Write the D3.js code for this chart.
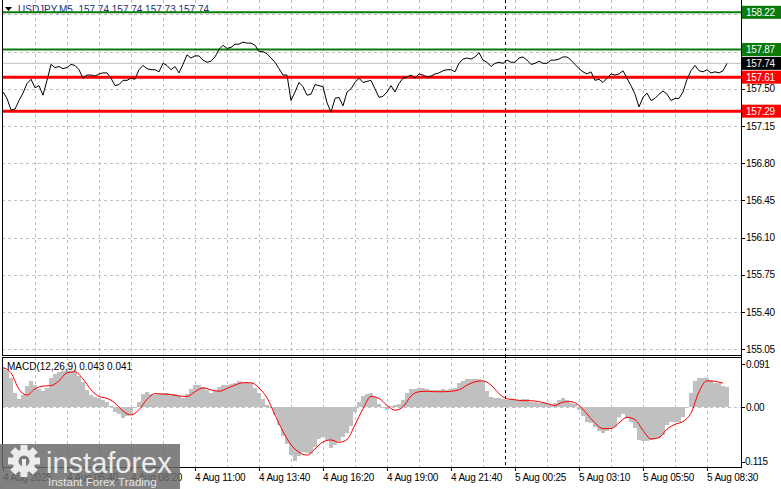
<!DOCTYPE html>
<html>
<head>
<meta charset="utf-8">
<script src="https://cdn.jsdelivr.net/npm/d3@7"></script>
<style>
	body { margin: 0; background: #fff; }
	svg { display: block; font-family: "Liberation Sans", Arial, sans-serif; }
</style>
</head>
<body>
<div id="chart"></div>
<script>
// close price, one point every 2 bars (M5)
var price = [
	157.47, 157.41, 157.30, 157.31, 157.39, 157.46, 157.55, 157.59, 157.51, 157.53,
	157.44, 157.58, 157.73, 157.70, 157.71, 157.69, 157.70, 157.73, 157.72, 157.68,
	157.60, 157.63, 157.63, 157.62, 157.64, 157.65, 157.65, 157.60, 157.53, 157.54,
	157.58, 157.58, 157.60, 157.59, 157.68, 157.72, 157.69, 157.68, 157.68, 157.66,
	157.74, 157.72, 157.68, 157.71, 157.65, 157.73, 157.82, 157.79, 157.81, 157.81,
	157.77, 157.75, 157.76, 157.80, 157.87, 157.91, 157.88, 157.89, 157.92, 157.92,
	157.94, 157.93, 157.93, 157.91, 157.85, 157.85, 157.83, 157.79, 157.75, 157.69,
	157.63, 157.63, 157.39, 157.47, 157.56, 157.52, 157.44, 157.45, 157.54, 157.53,
	157.52, 157.37, 157.28, 157.41, 157.42, 157.34, 157.47, 157.50, 157.56, 157.60,
	157.56, 157.57, 157.58, 157.50, 157.42, 157.43, 157.47, 157.53, 157.47, 157.55,
	157.60, 157.61, 157.63, 157.60, 157.64, 157.63, 157.61, 157.62, 157.64, 157.65,
	157.67, 157.68, 157.68, 157.66, 157.74, 157.78, 157.79, 157.78, 157.80, 157.84,
	157.77, 157.75, 157.71, 157.74, 157.75, 157.74, 157.77, 157.75, 157.75, 157.79,
	157.80, 157.77, 157.73, 157.74, 157.76, 157.74, 157.74, 157.77, 157.77, 157.78,
	157.80, 157.80, 157.77, 157.73, 157.69, 157.66, 157.64, 157.66, 157.58, 157.59,
	157.56, 157.60, 157.64, 157.63, 157.64, 157.67, 157.60, 157.53, 157.45, 157.33,
	157.42, 157.46, 157.39, 157.41, 157.45, 157.48, 157.45, 157.39, 157.41, 157.41,
	157.47, 157.59, 157.67, 157.72, 157.67, 157.66, 157.68, 157.65, 157.66, 157.65,
	157.67, 157.74
];

// MACD main (histogram), same points as price
var macdHist = [
	0.084, 0.080, 0.063, 0.031, 0.018, 0.027, 0.045, 0.055, 0.048, 0.039,
	0.034, 0.041, 0.063, 0.070, 0.074, 0.077, 0.077, 0.076, 0.073, 0.066,
	0.053, 0.036, 0.026, 0.022, 0.019, 0.016, 0.012, 0.002, -0.009, -0.014,
	-0.022, -0.019, -0.014, -0.001, 0.011, 0.029, 0.032, 0.029, 0.027, 0.029,
	0.031, 0.031, 0.029, 0.029, 0.023, 0.020, 0.028, 0.039, 0.047, 0.047,
	0.042, 0.037, 0.031, 0.034, 0.043, 0.048, 0.048, 0.049, 0.052, 0.055,
	0.053, 0.053, 0.051, 0.041, 0.031, 0.018, 0.005, -0.002, -0.016, -0.037,
	-0.060, -0.077, -0.101, -0.113, -0.104, -0.094, -0.097, -0.099, -0.083, -0.067,
	-0.062, -0.070, -0.087, -0.079, -0.071, -0.062, -0.054, -0.039, -0.009, 0.012,
	0.023, 0.029, 0.031, 0.022, 0.008, -0.001, -0.005, 0.002, 0.004, 0.008,
	0.016, 0.031, 0.038, 0.038, 0.040, 0.041, 0.038, 0.036, 0.036, 0.036,
	0.038, 0.036, 0.038, 0.041, 0.051, 0.055, 0.059, 0.059, 0.059, 0.059,
	0.055, 0.034, 0.022, 0.020, 0.019, 0.018, 0.016, 0.016, 0.016, 0.016,
	0.018, 0.018, 0.011, 0.011, 0.009, 0.009, 0.006, 0.005, 0.009, 0.016,
	0.019, 0.016, 0.009, 0.008, -0.005, -0.019, -0.032, -0.033, -0.042, -0.051,
	-0.055, -0.051, -0.044, -0.042, -0.020, -0.015, -0.023, -0.030, -0.044, -0.070,
	-0.072, -0.072, -0.070, -0.067, -0.065, -0.058, -0.037, -0.032, -0.030, -0.030,
	-0.020, -0.001, 0.031, 0.055, 0.063, 0.063, 0.063, 0.058, 0.052, 0.051,
	0.046, 0.043
];

// MACD signal, one value every 2nd price point
var macdSignal = [
	0.084, 0.073, 0.038, 0.026, 0.039, 0.045, 0.046, 0.056, 0.073, 0.075,
	0.060, 0.037, 0.023, 0.019, 0.009, -0.008, -0.016, -0.005, 0.017, 0.029,
	0.028, 0.027, 0.024, 0.023, 0.033, 0.041, 0.037, 0.034, 0.040, 0.047,
	0.052, 0.052, 0.041, 0.020, -0.016, -0.051, -0.079, -0.095, -0.101, -0.088,
	-0.073, -0.069, -0.074, -0.068, -0.037, -0.003, 0.023, 0.019, 0.004, -0.006,
	0.001, 0.024, 0.033, 0.034, 0.033, 0.033, 0.034, 0.037, 0.047, 0.054,
	0.056, 0.047, 0.029, 0.018, 0.016, 0.014, 0.014, 0.012, 0.008, 0.004,
	0.011, 0.012, 0.004, -0.014, -0.033, -0.045, -0.045, -0.033, -0.021, -0.026,
	-0.049, -0.067, -0.064, -0.046, -0.036, -0.030, -0.012, 0.033, 0.056, 0.055,
	0.051
];

var timeLabels = ['4 Aug 2025', '4 Aug 05:40', '4 Aug 08:20', '4 Aug 11:00', '4 Aug 13:40', '4 Aug 16:20',
	'4 Aug 19:00', '4 Aug 21:40', '5 Aug 00:25', '5 Aug 03:10', '5 Aug 05:50', '5 Aug 08:30'];
var priceTicks = [155.05, 155.40, 155.75, 156.10, 156.45, 156.80, 157.15, 157.50, 157.85, 158.20];
var macdTicks = [0.091, 0.00, -0.115];
var greenLevels = [158.22, 157.87];
var redLevels = [157.61, 157.29];
var lastPrice = 157.74;
var dayBreak = 125.5;
var headerText = 'USDJPY,M5  157.74 157.74 157.73 157.74';
var macdText = 'MACD(12,26,9) 0.043 0.041';

var svgWidth = 781,
	svgHeight = 489,
	left = 2,
	axisX = 741,
	mainBottom = 355,
	subTop = 357,
	subBottom = 467;

var x = d3.scaleLinear().domain([0, price.length - 1]).range([3, 727]);
var y = d3.scaleLinear().domain([155.05, 158.22]).range([349.3, 12.3]);
var ym = d3.scaleLinear().domain([-0.115, 0.091]).range([461.7, 364.3]);

var svg = d3.select('#chart')
	.append('svg')
	.attr('width', svgWidth)
	.attr('height', svgHeight);

var defs = svg.append('defs');
defs.append('clipPath').attr('id', 'clipMain')
	.append('rect').attr('x', left).attr('y', 0).attr('width', axisX - left).attr('height', mainBottom);
defs.append('clipPath').attr('id', 'clipSub')
	.append('rect').attr('x', left + 1).attr('y', subTop).attr('width', axisX - left - 1).attr('height', subBottom - subTop);

var grid = svg.append('g')
	.attr('stroke', '#c0c0c0')
	.attr('stroke-dasharray', '3,3')
	.attr('shape-rendering', 'crispEdges');

// vertical grid every 16 bars
d3.range(1, 23).forEach(function(i) {
	var gx = Math.round(x(i * 8)) + 0.5;
	grid.append('line').attr('x1', gx).attr('x2', gx).attr('y1', 0).attr('y2', mainBottom);
	grid.append('line').attr('x1', gx).attr('x2', gx).attr('y1', subTop).attr('y2', subBottom);
});
priceTicks.forEach(function(p) {
	var gy = Math.round(y(p)) + 0.5;
	grid.append('line').attr('x1', left).attr('x2', axisX).attr('y1', gy).attr('y2', gy);
});
grid.append('line')
	.attr('x1', left).attr('x2', axisX)
	.attr('y1', Math.round(ym(0)) + 0.5).attr('y2', Math.round(ym(0)) + 0.5);

// day separator
var sepX = Math.round(x(dayBreak)) + 0.5;
svg.append('line')
	.attr('x1', sepX).attr('x2', sepX).attr('y1', 0).attr('y2', subBottom)
	.attr('stroke', '#000')
	.attr('stroke-dasharray', '3,3')
	.attr('shape-rendering', 'crispEdges');

// header
svg.append('path')
	.attr('d', 'M5,7 L12,7 L8.5,11 Z')
	.attr('fill', '#000');
svg.append('text')
	.text(headerText)
	.attr('x', 18)
	.attr('y', 13)
	.attr('font-size', '10px')
	.attr('fill', '#1d2f7a')
	.attr('xml:space', 'preserve');

var main = svg.append('g').attr('clip-path', 'url(#clipMain)');

main.append('line')
	.attr('x1', left).attr('x2', axisX)
	.attr('y1', y(lastPrice)).attr('y2', y(lastPrice))
	.attr('stroke', '#c0c0c0')
	.attr('stroke-width', 1);

greenLevels.forEach(function(v) {
	main.append('line')
		.attr('x1', left).attr('x2', axisX)
		.attr('y1', y(v)).attr('y2', y(v))
		.attr('stroke', '#0a7a0a')
		.attr('stroke-width', 2);
});
redLevels.forEach(function(v) {
	main.append('line')
		.attr('x1', left).attr('x2', axisX)
		.attr('y1', y(v)).attr('y2', y(v))
		.attr('stroke', '#ff0000')
		.attr('stroke-width', 3);
});

main.append('path')
	.datum(price)
	.attr('d', d3.line().x(function(d, i) { return x(i); }).y(function(d) { return y(d); }))
	.attr('fill', 'none')
	.attr('stroke', '#000')
	.attr('stroke-width', 1);

// MACD panel
var sub = svg.append('g').attr('clip-path', 'url(#clipSub)');

sub.selectAll('rect.hist')
	.data(macdHist)
	.enter()
	.append('rect')
	.attr('class', 'hist')
	.attr('x', function(d, i) { return x(i) - 2; })
	.attr('width', 4)
	.attr('y', function(d) { return Math.min(ym(d), ym(0)); })
	.attr('height', function(d) { return Math.abs(ym(d) - ym(0)); })
	.attr('fill', '#c0c0c0')
	.attr('shape-rendering', 'crispEdges');

sub.append('path')
	.datum(macdSignal)
	.attr('d', d3.line().curve(d3.curveMonotoneX).x(function(d, i) { return x(i * 2); }).y(function(d) { return ym(d); }))
	.attr('fill', 'none')
	.attr('stroke', '#ff0000')
	.attr('stroke-width', 1);

svg.append('text')
	.text(macdText)
	.attr('x', 7)
	.attr('y', 370)
	.attr('font-size', '10px')
	.attr('fill', '#000');

// frames
var frame = svg.append('g')
	.attr('stroke', '#000')
	.attr('shape-rendering', 'crispEdges');
frame.append('line').attr('x1', left + 0.5).attr('x2', left + 0.5).attr('y1', 0).attr('y2', mainBottom);
frame.append('line').attr('x1', left + 0.5).attr('x2', left + 0.5).attr('y1', subTop).attr('y2', subBottom);
frame.append('line').attr('x1', left).attr('x2', axisX).attr('y1', mainBottom + 0.5).attr('y2', mainBottom + 0.5);
frame.append('line').attr('x1', left).attr('x2', axisX).attr('y1', subTop + 0.5).attr('y2', subTop + 0.5);
frame.append('line').attr('x1', left).attr('x2', axisX + 1).attr('y1', subBottom + 0.5).attr('y2', subBottom + 0.5);
frame.append('line').attr('x1', axisX + 0.5).attr('x2', axisX + 0.5).attr('y1', 0).attr('y2', subBottom);

// right axis; tick labels under a level box are hidden, as in the terminal
var boxLevels = greenLevels.concat(redLevels, [lastPrice]);
var axisG = svg.append('g').attr('font-size', '10px').attr('letter-spacing', '-0.3');
priceTicks.forEach(function(p) {
	axisG.append('line')
		.attr('x1', axisX).attr('x2', axisX + 4)
		.attr('y1', Math.round(y(p)) + 0.5).attr('y2', Math.round(y(p)) + 0.5)
		.attr('stroke', '#000');
	var covered = boxLevels.some(function(v) { return Math.abs(y(v) - y(p)) < 8; });
	if (covered) return;
	axisG.append('text')
		.text(p.toFixed(2))
		.attr('x', 746)
		.attr('y', y(p))
		.attr('dy', '0.35em')
		.attr('fill', '#000');
});
macdTicks.forEach(function(m) {
	axisG.append('line')
		.attr('x1', axisX).attr('x2', axisX + 4)
		.attr('y1', Math.round(ym(m)) + 0.5).attr('y2', Math.round(ym(m)) + 0.5)
		.attr('stroke', '#000');
	axisG.append('text')
		.text(m === 0 ? '0.00' : m.toFixed(3))
		.attr('x', m < 0 ? 742 : 746)
		.attr('y', ym(m))
		.attr('dy', '0.35em')
		.attr('fill', '#000');
});

function levelBox(v, color) {
	axisG.append('rect')
		.attr('x', axisX + 1)
		.attr('y', y(v) - 6.5)
		.attr('width', svgWidth - axisX - 1)
		.attr('height', 13)
		.attr('fill', color);
	axisG.append('text')
		.text(v.toFixed(2))
		.attr('x', 746)
		.attr('y', y(v))
		.attr('dy', '0.35em')
		.attr('fill', '#fff');
}
greenLevels.forEach(function(v) { levelBox(v, '#0a7a0a'); });
levelBox(lastPrice, '#000');
redLevels.forEach(function(v) { levelBox(v, '#ff0000'); });

// time axis
var timeG = svg.append('g').attr('font-size', '10px').attr('letter-spacing', '-0.2');
timeLabels.forEach(function(t, i) {
	var tx = Math.round(x(i * 16)) + 0.5;
	timeG.append('line')
		.attr('x1', tx).attr('x2', tx)
		.attr('y1', subBottom).attr('y2', subBottom + 4)
		.attr('stroke', '#000');
	timeG.append('text')
		.text(t)
		.attr('x', tx - 0.5)
		.attr('y', 481)
		.attr('fill', '#000');
});

// watermark
var wm = svg.append('g');
wm.append('rect')
	.attr('x', 0).attr('y', 444)
	.attr('width', 180).attr('height', 45)
	.attr('fill', '#6b6b6b')
	.attr('opacity', 0.85);
var gear = wm.append('g').attr('transform', 'translate(24,461)').attr('fill', '#ececec');
d3.range(8).forEach(function(i) {
	gear.append('rect')
		.attr('x', -3.5).attr('y', -16)
		.attr('width', 7).attr('height', 8)
		.attr('transform', 'rotate(' + (i * 45) + ')');
});
gear.append('circle').attr('r', 11.5);
gear.append('circle').attr('r', 5.5).attr('fill', '#777');
gear.append('rect').attr('x', -2).attr('y', -2).attr('width', 4).attr('height', 18).attr('fill', '#ececec');
wm.append('text')
	.text('instaforex')
	.attr('x', 46)
	.attr('y', 473)
	.attr('font-size', '29px')
	.attr('fill', '#ececec');
wm.append('text')
	.text('Instant Forex Trading')
	.attr('x', 48)
	.attr('y', 486)
	.attr('font-size', '11.5px')
	.attr('fill', '#e6e6e6');
</script>
</body>
</html>
